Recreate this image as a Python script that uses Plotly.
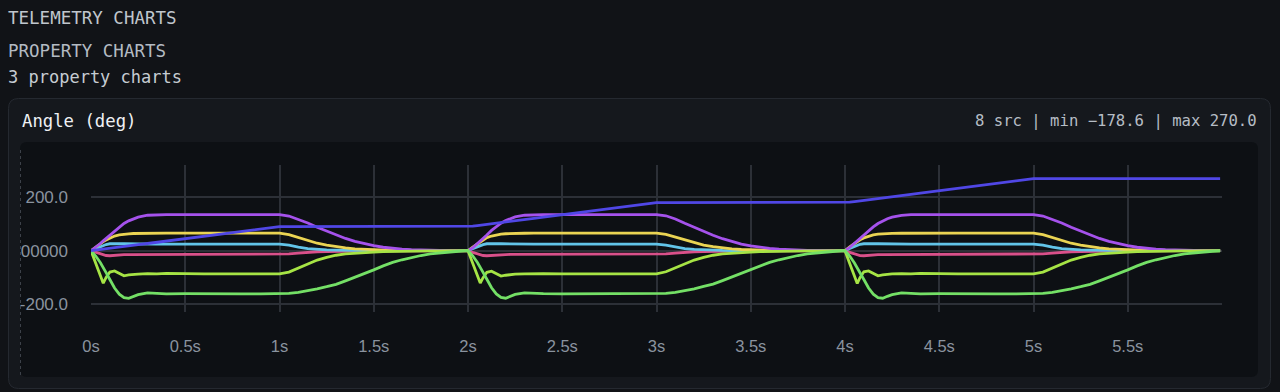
import plotly.graph_objects as go

# ---------------- data ----------------
time_s = [
    0, 0.025, 0.05, 0.065, 0.08, 0.1, 0.125, 0.15, 0.175, 0.2, 0.225, 0.25, 0.3, 0.35, 0.4, 0.5, 0.6, 0.7, 0.8, 0.9,
    1.0, 1.05, 1.1, 1.15, 1.2, 1.25, 1.3, 1.35, 1.4, 1.45, 1.5, 1.55, 1.6, 1.65, 1.7, 1.75, 1.8, 1.85, 1.9, 1.95,
    2.0, 2.025, 2.05, 2.065, 2.08, 2.1, 2.125, 2.15, 2.175, 2.2, 2.225, 2.25, 2.3, 2.35, 2.4, 2.5, 2.6, 2.7, 2.8, 2.9,
    3.0, 3.05, 3.1, 3.15, 3.2, 3.25, 3.3, 3.35, 3.4, 3.45, 3.5, 3.55, 3.6, 3.65, 3.7, 3.75, 3.8, 3.85, 3.9, 3.95,
    4.0, 4.025, 4.05, 4.065, 4.08, 4.1, 4.125, 4.15, 4.175, 4.2, 4.225, 4.25, 4.3, 4.35, 4.4, 4.5, 4.6, 4.7, 4.8, 4.9,
    5.0, 5.05, 5.1, 5.15, 5.2, 5.25, 5.3, 5.35, 5.4, 5.45, 5.5, 5.55, 5.6, 5.65, 5.7, 5.75, 5.8, 5.85, 5.9, 5.95,
    5.99,
]

src_purple = [
    0, 12, 27, 37, 46, 58, 75, 90, 102, 112, 120, 126, 133, 135, 135.5, 135, 135, 135, 135, 135,
    135, 130, 118, 104, 88, 73, 59, 46, 35, 26, 19, 13, 9, 6, 4, 2.5, 1.5, 1, 0.5, 0.2,
    0, 11, 26, 36, 47, 59, 76, 91, 103, 113, 121, 127, 133, 135, 135.5, 135.2, 135, 135, 135, 135,
    135, 131, 119, 103, 87, 72, 58, 45, 34, 25, 18, 12, 8.5, 5.5, 3.5, 2.2, 1.3, 0.8, 0.4, 0.1,
    0, 12, 28, 38, 47, 58, 74, 89, 102, 112, 120, 126, 132.5, 135, 135.5, 135, 135, 135, 135, 135,
    135, 130, 118, 104, 88, 73, 59, 46, 35, 26, 19, 13, 9, 6, 4, 2.5, 1.5, 1, 0.5, 0.2,
    0.1,
]

src_yellow = [
    0, 14, 27, 34, 40, 48, 55, 59, 62, 63.5, 64.5, 65, 65.5, 66, 66, 66, 66, 66, 66, 66,
    66, 60, 50, 38, 28, 21, 15, 11, 7, 5, 3, 2, 1.2, 0.8, 0.5, 0.3, 0.2, 0.1, 0, 0,
    0, 13, 26, 34, 41, 49, 55, 59, 62, 63.5, 64.5, 65, 65.5, 66, 66, 66, 66, 66, 66, 66,
    66, 61, 51, 39, 29, 21, 15, 10.5, 7, 4.5, 3, 2, 1.2, 0.8, 0.5, 0.3, 0.2, 0.1, 0, 0,
    0, 14, 27, 35, 41, 48, 54, 59, 62, 63.5, 64.5, 65, 65.5, 66, 66, 66, 66, 66, 66, 66,
    66, 60, 50, 38, 28, 21, 15, 11, 7, 5, 3, 2, 1.2, 0.8, 0.5, 0.3, 0.2, 0.1, 0, 0,
    0,
]

src_cyan = [
    0, 8, 16, 20, 23, 26, 27, 26.5, 26, 25.5, 25, 25, 25, 25, 25, 25, 25, 25, 25, 25,
    25, 21, 13, 8, 5, 3, 2, 1, 0.5, 0.3, 0.2, 0.1, 0, 0, 0, 0, 0, 0, 0, 0,
    0, 8, 15, 20, 23, 26, 27, 26.5, 26, 25.5, 25, 25, 25, 25, 25, 25, 25, 25, 25, 25,
    25, 21, 14, 8, 5, 3, 2, 1, 0.5, 0.3, 0.2, 0.1, 0, 0, 0, 0, 0, 0, 0, 0,
    0, 8, 16, 21, 24, 26, 27, 26.5, 26, 25.5, 25, 25, 25, 25, 25, 25, 25, 25, 25, 25,
    25, 21, 13, 8, 5, 3, 2, 1, 0.5, 0.3, 0.2, 0.1, 0, 0, 0, 0, 0, 0, 0, 0,
    0,
]

src_pink = [
    0, -6, -12, -16, -18, -19, -17, -15.5, -15, -14.5, -14.5, -14, -14, -14, -14, -14, -14, -14, -14, -14,
    -14, -12, -9, -6, -4, -3, -2, -1.5, -1, -0.8, -0.5, -0.3, -0.2, -0.1, 0, 0, 0, 0, 0, 0,
    0, -6, -11, -15, -18, -19, -17.5, -15.5, -15, -14.5, -14, -14, -14, -14, -14, -14, -14, -14, -14, -14,
    -14, -12, -9, -6, -4, -3, -2, -1.5, -1, -0.8, -0.5, -0.3, -0.2, -0.1, 0, 0, 0, 0, 0, 0,
    0, -6, -12, -16, -18.5, -19, -17, -15.5, -15, -14.5, -14.5, -14, -14, -14, -14, -14, -14, -14, -14, -14,
    -14, -12, -9, -6, -4, -3, -2, -1.5, -1, -0.8, -0.5, -0.3, -0.2, -0.1, 0, 0, 0, 0, 0, 0,
    0,
]

src_lime = [
    0, -48, -95, -122, -100, -80, -76, -86, -94, -91, -89, -88, -86, -87, -85, -87, -87, -87, -87, -87,
    -87, -80, -65, -50, -35, -25, -17, -12, -9, -7, -5, -3.5, -2.5, -2, -1.5, -1.2, -1, -0.7, -0.5, -0.3,
    0, -47, -94, -121, -101, -81, -77, -87, -95, -92, -89, -88, -87, -86, -86, -87, -87, -87, -87, -87,
    -87, -79, -64, -49, -35, -25, -17, -12, -9, -7, -5, -3.5, -2.5, -2, -1.5, -1.2, -1, -0.7, -0.5, -0.3,
    0, -48, -96, -123, -100, -79, -76, -86, -94, -91, -89, -87, -86, -87, -85, -87, -87, -87, -87, -87,
    -87, -80, -65, -50, -35, -25, -17, -12, -9, -7, -5, -3.5, -2.5, -2, -1.5, -1.2, -1, -0.7, -0.5, -0.3,
    -0.2,
]

src_green = [
    0, -20, -45, -62, -82, -108, -140, -163, -176, -178.6, -172, -165, -158, -160, -162, -161, -162, -162, -162, -162,
    -162, -160, -156, -150, -143, -135, -126, -113, -100, -85, -72, -57, -44, -34, -25, -18, -12, -8, -4, -2,
    0, -19, -44, -61, -81, -107, -139, -162, -175, -178, -172, -164, -158, -160, -161, -162, -162, -162, -162, -162,
    -162, -160, -156, -150, -143, -134, -125, -112, -99, -85, -71, -57, -44, -34, -25, -18, -12, -8, -4, -2,
    0, -20, -46, -63, -83, -108, -140, -163, -176, -178.3, -171, -165, -158, -160, -162, -161, -162, -162, -162, -162,
    -162, -160, -156, -150, -143, -135, -126, -113, -100, -85, -72, -57, -44, -34, -25, -18, -12, -8, -4, -2,
    -1,
]

src_blue = [
    0, 2, 4, 5.5, 7, 9, 11, 13.5, 15.5, 18, 20, 22.5, 27, 31.5, 36, 45, 54, 63, 72, 81,
    90, 90, 90, 90, 90, 90, 90, 90, 90, 90, 90, 90, 90, 90, 90, 90, 90, 90, 90, 90,
    90, 92, 94, 95.5, 97, 99, 101, 103.5, 105.5, 108, 110, 112.5, 117, 121.5, 126, 135, 144, 153, 162, 171,
    180, 180, 180, 180, 180, 180, 180, 180, 180, 180, 180, 180, 180, 180, 180, 180, 180, 180, 180, 180,
    180, 182, 184, 185.5, 187, 189, 191, 193.5, 195.5, 198, 200, 202.5, 207, 211.5, 216, 225, 234, 243, 252, 261,
    270, 270, 270, 270, 270, 270, 270, 270, 270, 270, 270, 270, 270, 270, 270, 270, 270, 270, 270, 270,
    270,
]

x_tick_vals = [0, 0.5, 1, 1.5, 2, 2.5, 3, 3.5, 4, 4.5, 5, 5.5]
x_tick_text = ["0s", "0.5s", "1s", "1.5s", "2s", "2.5s", "3s", "3.5s", "4s", "4.5s", "5s", "5.5s"]
y_tick_vals = [-200, 0, 200]
y_tick_text = ["-200.0", "0.00000", "200.0"]

# draw order (bottom -> top)
series = [
    ("pink", src_pink, "#d9508a"),
    ("cyan", src_cyan, "#62c4e8"),
    ("yellow", src_yellow, "#ead453"),
    ("purple", src_purple, "#a552ec"),
    ("lime", src_lime, "#a6e445"),
    ("green", src_green, "#74e066"),
    ("blue", src_blue, "#5047e6"),
]

# ---------------- styling ----------------
PAGE = "#111317"
CARD = "#15181d"
CARD_BORDER = "#252930"
PANEL = "#0d1014"
GRID = "#2c3037"
TICK = "#8a939f"
MONO = "DejaVu Sans Mono, monospace"
SANS = "Liberation Sans, Arial, sans-serif"

W, H = 1280, 392
L, R, T, B = 91, 1222, 165, 312


def X(px):
    return (px - L) / (R - L)


def Y(py):
    return (B - py) / (B - T)


def rrect(x0, y0, x1, y1, r):
    return (
        f"M {X(x0 + r)},{Y(y0)} L {X(x1 - r)},{Y(y0)} Q {X(x1)},{Y(y0)} {X(x1)},{Y(y0 + r)} "
        f"L {X(x1)},{Y(y1 - r)} Q {X(x1)},{Y(y1)} {X(x1 - r)},{Y(y1)} "
        f"L {X(x0 + r)},{Y(y1)} Q {X(x0)},{Y(y1)} {X(x0)},{Y(y1 - r)} "
        f"L {X(x0)},{Y(y0 + r)} Q {X(x0)},{Y(y0)} {X(x0 + r)},{Y(y0)} Z"
    )


fig = go.Figure()
for name, vals, color in series:
    fig.add_trace(go.Scatter(
        x=time_s, y=vals, mode="lines", name=name,
        line=dict(color=color, width=2.8),
        hoverinfo="skip",
    ))

shapes = [
    dict(type="path", xref="paper", yref="paper", layer="below",
         path=rrect(8.5, 98.5, 1270.5, 388.5, 10), fillcolor=CARD,
         line=dict(color=CARD_BORDER, width=1)),
    dict(type="path", xref="paper", yref="paper", layer="below",
         path=rrect(20, 142, 1258, 377, 7), fillcolor=PANEL, line=dict(width=0)),
    # clip the y tick labels at the left edge of the panel
    dict(type="rect", xref="paper", yref="paper", layer="above",
         x0=X(0), x1=X(8), y0=Y(320), y1=Y(232), fillcolor=PAGE, line=dict(width=0)),
    dict(type="rect", xref="paper", yref="paper", layer="above",
         x0=X(9), x1=X(20), y0=Y(320), y1=Y(232), fillcolor=CARD, line=dict(width=0)),
    dict(type="line", xref="paper", yref="paper", layer="above",
         x0=X(8.5), x1=X(8.5), y0=Y(320), y1=Y(232), line=dict(color=CARD_BORDER, width=1)),
    dict(type="line", xref="paper", yref="paper", layer="above",
         x0=X(20.5), x1=X(20.5), y0=Y(150), y1=Y(375),
         line=dict(color="#3c4149", width=1, dash="3px,3px")),
]

annotations = [
    dict(text="TELEMETRY CHARTS", x=X(6), y=Y(18.5), font=dict(family=MONO, size=17.5, color="#c0c6cd")),
    dict(text="PROPERTY CHARTS", x=X(6), y=Y(51), font=dict(family=MONO, size=17.5, color="#b4bbc3")),
    dict(text="3 property charts", x=X(6), y=Y(76.5), font=dict(family=MONO, size=17, color="#c6ccd2")),
    dict(text="Angle (deg)", x=X(19.5), y=Y(121), font=dict(family=MONO, size=17.3, color="#eef1f4")),
    dict(text="8 src | min \u2212178.6 | max 270.0", x=X(1258.5), y=Y(121), xanchor="right",
         font=dict(family=MONO, size=15.6, color="#b6bdc5")),
]
for a in annotations:
    a.update(xref="paper", yref="paper", showarrow=False, yanchor="middle")
    a.setdefault("xanchor", "left")

fig.update_layout(
    width=W, height=H,
    margin=dict(l=L, r=W - R, t=T, b=H - B, pad=0),
    paper_bgcolor=PAGE, plot_bgcolor="rgba(0,0,0,0)",
    showlegend=False,
    shapes=shapes, annotations=annotations,
    xaxis=dict(range=[0, 6], tickvals=x_tick_vals, ticktext=x_tick_text,
               showgrid=True, gridcolor=GRID, gridwidth=2, zeroline=False, showline=False,
               ticks="", ticklabelstandoff=22, fixedrange=True, automargin=False,
               tickfont=dict(family=SANS, size=16.5, color=TICK)),
    yaxis=dict(range=[-229.8, 321.3], tickvals=y_tick_vals, ticktext=y_tick_text,
               showgrid=True, gridcolor=GRID, gridwidth=2, zeroline=False, showline=False,
               ticks="", ticklabelstandoff=22, fixedrange=True, automargin=False,
               tickfont=dict(family=SANS, size=17, color=TICK)),
)

fig.write_html("out.html", config={"displayModeBar": False})
